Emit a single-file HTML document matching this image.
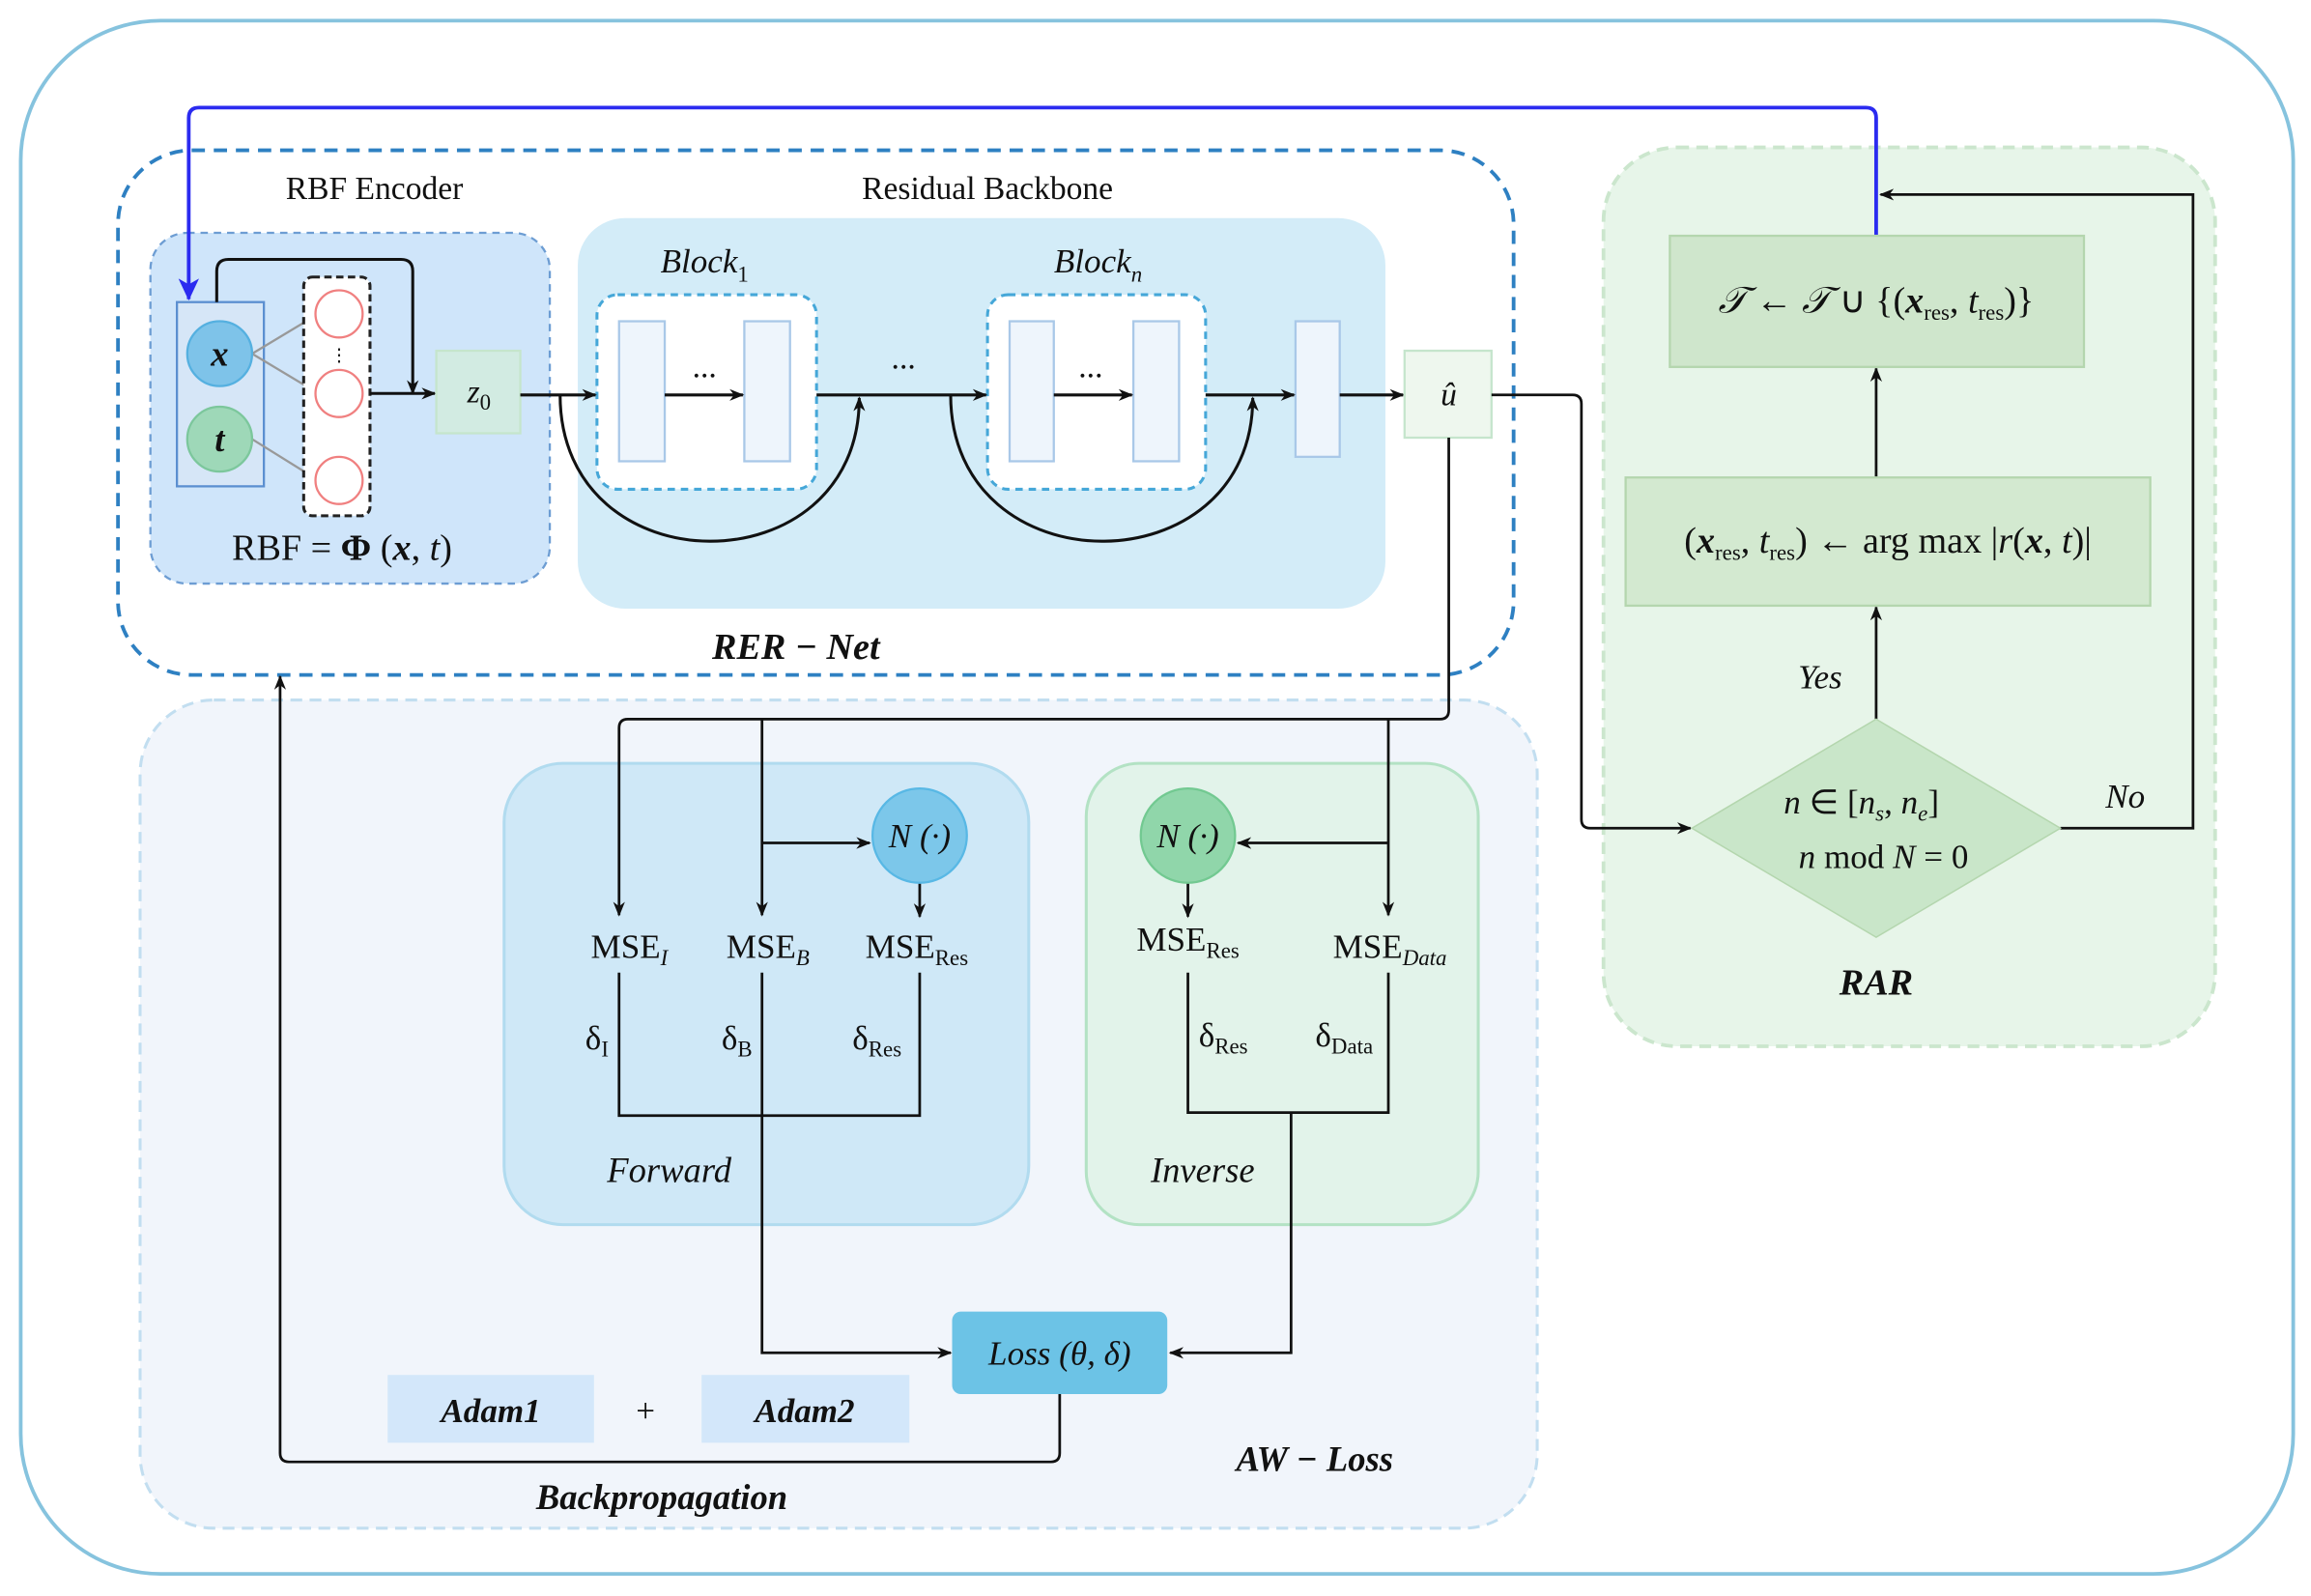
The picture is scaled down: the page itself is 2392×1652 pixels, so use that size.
<!DOCTYPE html>
<html><head><meta charset="utf-8"><style>
html,body{margin:0;padding:0;background:#fff}
svg{display:block}
text{font-family:"Liberation Serif",serif;fill:#111}
.i{font-style:italic}
.b{font-weight:bold;font-style:italic}
</style></head><body>
<svg width="2392" height="1652" viewBox="0 0 1568 1083" xmlns="http://www.w3.org/2000/svg">
<defs>
<marker id="a" markerWidth="10" markerHeight="10" refX="9" refY="5" orient="auto" markerUnits="userSpaceOnUse"><path d="M0,1 L10,5 L0,9 L3,5 Z" fill="#111"/></marker>
<marker id="ab" markerWidth="16" markerHeight="16" refX="14" refY="8" orient="auto" markerUnits="userSpaceOnUse"><path d="M0,1 L15,8 L0,15 L4,8 Z" fill="#2b2bf0"/></marker>
<marker id="ag" markerWidth="8" markerHeight="8" refX="7" refY="4" orient="auto" markerUnits="userSpaceOnUse"><path d="M0,1 L8,4 L0,7 Z" fill="#999"/></marker>
</defs>
<rect x="14" y="14" width="1542" height="1054" rx="95" fill="#fff" stroke="#86c3de" stroke-width="2.5"/>
<!-- AW-Loss -->
<rect x="95" y="475" width="948" height="562" rx="50" fill="#f1f5fb" stroke="#c2def0" stroke-width="2" stroke-dasharray="8,5"/>
<!-- RAR -->
<rect x="1088" y="100" width="415" height="610" rx="50" fill="#e7f5e9" stroke="#cbe6cd" stroke-width="2.5" stroke-dasharray="8,5"/>
<!-- RER-Net -->
<rect x="80" y="102" width="947" height="356" rx="50" fill="#fff" stroke="#2e80c2" stroke-width="2.5" stroke-dasharray="9,6"/>
<rect x="102" y="158" width="271" height="238" rx="25" fill="#cfe5fa" stroke="#6d9dd3" stroke-width="1.5" stroke-dasharray="5,4"/>
<rect x="392" y="148" width="548" height="265" rx="32" fill="#d3ecf8"/>
<text x="254" y="135" font-size="22" text-anchor="middle">RBF Encoder</text>
<text x="670" y="135" font-size="22" text-anchor="middle">Residual Backbone</text>
<!-- input -->
<rect x="120" y="205" width="59" height="125" fill="#d6e6f7" stroke="#5b8fd0" stroke-width="1.5"/>
<line x1="171" y1="240" x2="216" y2="213" stroke="#999" stroke-width="1.5" marker-end="url(#ag)"/>
<line x1="171" y1="240" x2="216" y2="267" stroke="#999" stroke-width="1.5" marker-end="url(#ag)"/>
<line x1="171" y1="298" x2="216" y2="326" stroke="#999" stroke-width="1.5" marker-end="url(#ag)"/>
<circle cx="149" cy="240" r="22" fill="#7ec3e9" stroke="#55b0e0" stroke-width="1.5"/>
<circle cx="149" cy="298" r="22" fill="#9ed8b8" stroke="#7cc79c" stroke-width="1.5"/>
<text x="149" y="248" font-size="24" class="b" text-anchor="middle">x</text>
<text x="149" y="306" font-size="24" class="b" text-anchor="middle">t</text>
<rect x="206" y="188" width="45" height="162" rx="6" fill="#fff" stroke="#222" stroke-width="2" stroke-dasharray="5,3"/>
<circle cx="230" cy="213" r="16" fill="#fff" stroke="#f08080" stroke-width="1.5"/>
<circle cx="230" cy="267" r="16" fill="#fff" stroke="#f08080" stroke-width="1.5"/>
<circle cx="230" cy="326" r="16" fill="#fff" stroke="#f08080" stroke-width="1.5"/>
<text x="230" y="245" font-size="12" text-anchor="middle" fill="#777">⋮</text>
<path d="M147,205 V184 Q147,176 155,176 H272 Q280,176 280,184 V267" fill="none" stroke="#111" stroke-width="2" marker-end="url(#a)"/>
<line x1="251" y1="267" x2="295" y2="267" stroke="#111" stroke-width="2" marker-end="url(#a)"/>
<rect x="296" y="238" width="57" height="56" fill="#d2ebe2" stroke="#c5e5cc" stroke-width="1.5"/>
<text x="325" y="273" font-size="22" class="i" text-anchor="middle">z<tspan font-size="15" font-style="normal" dy="5">0</tspan></text>
<text x="232" y="380" font-size="25" text-anchor="middle">RBF = <tspan font-weight="bold">Φ</tspan> (<tspan class="b">x</tspan>, <tspan class="i">t</tspan>)</text>
<!-- backbone -->
<rect x="405" y="200" width="149" height="132" rx="14" fill="#fff" stroke="#45a7d8" stroke-width="2" stroke-dasharray="5,4"/>
<rect x="670" y="200" width="148" height="132" rx="14" fill="#fff" stroke="#45a7d8" stroke-width="2" stroke-dasharray="5,4"/>
<g fill="#eef5fc" stroke="#a9c8e8" stroke-width="1.5">
<rect x="420" y="218" width="31" height="95"/><rect x="505" y="218" width="31" height="95"/>
<rect x="685" y="218" width="30" height="95"/><rect x="769" y="218" width="31" height="95"/>
<rect x="879" y="218" width="30" height="92"/></g>
<text x="478" y="185" font-size="23" class="i" text-anchor="middle">Block<tspan font-size="15" font-style="normal" dy="6">1</tspan></text>
<text x="745" y="185" font-size="23" class="i" text-anchor="middle">Block<tspan font-size="15" dy="6">n</tspan></text>
<text x="478" y="256" font-size="22" text-anchor="middle">...</text>
<text x="740" y="256" font-size="22" text-anchor="middle">...</text>
<text x="613" y="250" font-size="22" text-anchor="middle">...</text>
<g stroke="#111" stroke-width="2" fill="none">
<line x1="451" y1="268" x2="504" y2="268" marker-end="url(#a)"/>
<line x1="715" y1="268" x2="768" y2="268" marker-end="url(#a)"/>
<line x1="353" y1="268" x2="404" y2="268" marker-end="url(#a)"/>
<line x1="554" y1="268" x2="669" y2="268" marker-end="url(#a)"/>
<line x1="818" y1="268" x2="878" y2="268" marker-end="url(#a)"/>
<line x1="909" y1="268" x2="952" y2="268" marker-end="url(#a)"/>
<path d="M380,268 C380,400 583,400 583,270" marker-end="url(#a)"/>
<path d="M645,268 C645,400 850,400 850,270" marker-end="url(#a)"/>
</g>
<rect x="953" y="238" width="59" height="59" fill="#eef7ee" stroke="#c5e5cc" stroke-width="1.5"/>
<text x="983" y="275" font-size="22" class="i" text-anchor="middle">û</text>
<text x="540" y="447" font-size="25" class="b" text-anchor="middle">RER − Net</text>
<!-- blue feedback -->
<path d="M1273,160 V80 Q1273,73 1266,73 H135 Q128,73 128,80 V203" fill="none" stroke="#2b2bf0" stroke-width="2.5" marker-end="url(#ab)"/>
<!-- forward / inverse -->
<rect x="342" y="518" width="356" height="313" rx="40" fill="#cfe8f7" stroke="#b1dbef" stroke-width="2"/>
<rect x="737" y="518" width="266" height="313" rx="36" fill="#e2f3ea" stroke="#b3e2c4" stroke-width="2"/>
<g stroke="#111" stroke-width="1.8" fill="none">
<path d="M983,297 V482 Q983,488 977,488 H426 Q420,488 420,494 V621" marker-end="url(#a)"/>
<line x1="517" y1="488" x2="517" y2="621" marker-end="url(#a)"/>
<line x1="942" y1="488" x2="942" y2="621" marker-end="url(#a)"/>
<line x1="517" y1="572" x2="590" y2="572" marker-end="url(#a)"/>
<line x1="942" y1="572" x2="840" y2="572" marker-end="url(#a)"/>
<line x1="624" y1="599" x2="624" y2="622" marker-end="url(#a)"/>
<line x1="806" y1="599" x2="806" y2="622" marker-end="url(#a)"/>
<path d="M420,660 V757 H624 V660"/>
<path d="M517,660 V918 H645" marker-end="url(#a)"/>
<path d="M806,660 V755 H942 V660"/>
<path d="M876,755 V918 H794" marker-end="url(#a)"/>
<path d="M719,946 V986 Q719,992 713,992 H196 Q190,992 190,986 V459" marker-end="url(#a)"/>
<path d="M1012,268 H1067 Q1073,268 1073,274 V556 Q1073,562 1079,562 H1147" marker-end="url(#a)"/>
<path d="M1398,562 H1488 V132 H1276" marker-end="url(#a)"/>
<line x1="1273" y1="488" x2="1273" y2="412" marker-end="url(#a)"/>
<line x1="1273" y1="324" x2="1273" y2="250" marker-end="url(#a)"/>
</g>
<circle cx="624" cy="567" r="32" fill="#7cc7ea" stroke="#58b8e5" stroke-width="1.5"/>
<circle cx="806" cy="567" r="32" fill="#90d6aa" stroke="#72c991" stroke-width="1.5"/>
<text x="624" y="575" font-size="23" class="i" text-anchor="middle">N (·)</text>
<text x="806" y="575" font-size="23" class="i" text-anchor="middle">N (·)</text>
<g font-size="23">
<text x="427" y="650" text-anchor="middle">MSE<tspan font-size="15" class="i" dy="5">I</tspan></text>
<text x="521" y="650" text-anchor="middle">MSE<tspan font-size="15" class="i" dy="5">B</tspan></text>
<text x="622" y="650" text-anchor="middle">MSE<tspan font-size="15" dy="5">Res</tspan></text>
<text x="806" y="645" text-anchor="middle">MSE<tspan font-size="15" dy="5">Res</tspan></text>
<text x="943" y="650" text-anchor="middle">MSE<tspan font-size="15" class="i" dy="5">Data</tspan></text>
<text x="405" y="712" text-anchor="middle">δ<tspan font-size="15" dy="5">I</tspan></text>
<text x="500" y="712" text-anchor="middle">δ<tspan font-size="15" dy="5">B</tspan></text>
<text x="595" y="712" text-anchor="middle">δ<tspan font-size="15" dy="5">Res</tspan></text>
<text x="830" y="710" text-anchor="middle">δ<tspan font-size="15" dy="5">Res</tspan></text>
<text x="912" y="710" text-anchor="middle">δ<tspan font-size="15" dy="5">Data</tspan></text>
</g>
<text x="454" y="802" font-size="24" class="i" text-anchor="middle">Forward</text>
<text x="816" y="802" font-size="24" class="i" text-anchor="middle">Inverse</text>
<rect x="646" y="890" width="146" height="56" rx="6" fill="#6cc3e6"/>
<text x="719" y="926" font-size="23" class="i" text-anchor="middle">Loss (θ, δ)</text>
<rect x="263" y="933" width="140" height="46" fill="#d3e7fa"/>
<rect x="476" y="933" width="141" height="46" fill="#d3e7fa"/>
<text x="333" y="965" font-size="23" class="b" text-anchor="middle">Adam1</text>
<text x="546" y="965" font-size="23" class="b" text-anchor="middle">Adam2</text>
<text x="438" y="965" font-size="23" text-anchor="middle">+</text>
<text x="449" y="1024" font-size="24" class="b" text-anchor="middle">Backpropagation</text>
<text x="892" y="998" font-size="24" class="b" text-anchor="middle">AW − Loss</text>
<!-- RAR -->
<rect x="1133" y="160" width="281" height="89" fill="#cfe6cc" stroke="#b4d6ae" stroke-width="1.5"/>
<rect x="1103" y="324" width="356" height="87" fill="#d3e9d0" stroke="#b4d6ae" stroke-width="1.5"/>
<polygon points="1273,488 1398,562 1273,636 1148,562" fill="#c9e6c9" stroke="#b4d6ae" stroke-width="1"/>
<text x="1273" y="212" font-size="25" text-anchor="middle"><tspan class="i">𝒯</tspan> ← <tspan class="i">𝒯</tspan> ∪ {(<tspan class="b">x</tspan><tspan font-size="15" dy="5">res</tspan><tspan dy="-5">, </tspan><tspan class="i">t</tspan><tspan font-size="15" dy="5">res</tspan><tspan dy="-5">)}</tspan></text>
<text x="1281" y="375" font-size="25" text-anchor="middle">(<tspan class="b">x</tspan><tspan font-size="15" dy="5">res</tspan><tspan dy="-5">, </tspan><tspan class="i">t</tspan><tspan font-size="15" dy="5">res</tspan><tspan dy="-5">) ← arg max |</tspan><tspan class="i">r</tspan>(<tspan class="b">x</tspan>, <tspan class="i">t</tspan>)|</text>
<text x="1263" y="552" font-size="23" text-anchor="middle"><tspan class="i">n</tspan> ∈ [<tspan class="i">n</tspan><tspan font-size="15" class="i" dy="5">s</tspan><tspan dy="-5">, </tspan><tspan class="i">n</tspan><tspan font-size="15" class="i" dy="5">e</tspan><tspan dy="-5">]</tspan></text>
<text x="1278" y="589" font-size="23" text-anchor="middle"><tspan class="i">n</tspan> mod <tspan class="i">N</tspan> = 0</text>
<text x="1235" y="467" font-size="23" class="i" text-anchor="middle">Yes</text>
<text x="1442" y="548" font-size="23" class="i" text-anchor="middle">No</text>
<text x="1273" y="675" font-size="25" class="b" text-anchor="middle">RAR</text>
</svg>
</body></html>
